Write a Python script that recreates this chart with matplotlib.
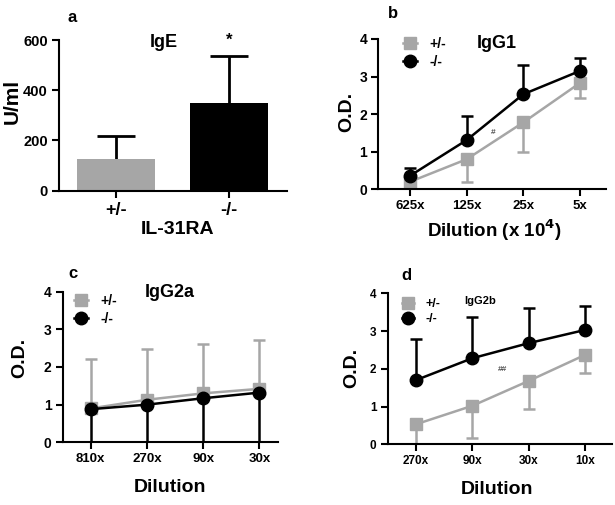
import matplotlib
matplotlib.use("Agg")
import matplotlib.pyplot as plt
from matplotlib.lines import Line2D

plt.rcParams['font.family'] = ['Liberation Sans', 'DejaVu Sans']
plt.rcParams['font.weight'] = 'bold'
plt.rcParams['axes.linewidth'] = 1.5

GRAY = '#a6a6a6'
BLACK = '#000000'

# Panel a: IgE
ige_groups = ['+/-', '-/-']
ige_values = [125, 348]
ige_err = [94, 188]

# Panel b: IgG1
igg1_labels = ['625x', '125x', '25x', '5x']
igg1_het = [0.20, 0.80, 1.78, 2.83]
igg1_het_err = [0.30, 0.60, 0.78, 0.41]
igg1_ko = [0.36, 1.31, 2.53, 3.15]
igg1_ko_err = [0.20, 0.64, 0.79, 0.35]

# Panel c: IgG2a
igg2a_labels = ['810x', '270x', '90x', '30x']
igg2a_het = [0.90, 1.13, 1.30, 1.42]
igg2a_het_err = [1.32, 1.35, 1.31, 1.29]
igg2a_ko = [0.88, 1.00, 1.17, 1.32]
igg2a_ko_err = [1.20, 1.30, 1.40, 1.50]

# Panel d: IgG2b
igg2b_labels = ['270x', '90x', '30x', '10x']
igg2b_het = [0.53, 1.02, 1.68, 2.37]
igg2b_het_err = [0.70, 0.86, 0.75, 0.49]
igg2b_ko = [1.70, 2.28, 2.68, 3.03]
igg2b_ko_err = [1.08, 1.08, 0.94, 0.63]

W, H = 615, 505
fig = plt.figure(figsize=(W / 100, H / 100), dpi=100)


def axes_px(left, right, top, bottom):
    return fig.add_axes([left / W, 1 - bottom / H, (right - left) / W, (bottom - top) / H])


def style(ax, ysize=10, xsize=9.5):
    for s in ['top', 'right']:
        ax.spines[s].set_visible(False)
    ax.tick_params(axis='both', direction='out', width=1.5, length=5, pad=3)
    ax.tick_params(axis='y', labelsize=ysize)
    ax.tick_params(axis='x', labelsize=xsize)
    for lab in ax.get_xticklabels() + ax.get_yticklabels():
        lab.set_fontweight('bold')


def one_sided(container, up):
    # hide the caps at the point end of a one-sided error bar
    caps = container[1]
    if len(caps) == 2:
        caps[0 if up else 1].set_visible(False)


# ---- Panel a ----
axa = axes_px(59, 287, 40, 190.7)
xa = list(range(len(ige_groups)))
axa.bar(xa, ige_values, width=0.69, color=[GRAY, BLACK], zorder=2)
eb = axa.errorbar(xa, ige_values, yerr=[[0, 0], ige_err], fmt='none', ecolor='black',
                  elinewidth=2, capsize=14, capthick=2, zorder=1)
one_sided(eb, True)
axa.set_xlim(-0.504, 1.513)
axa.set_ylim(0, 600)
axa.set_yticks([0, 200, 400, 600])
axa.set_xticks(xa)
axa.set_xticklabels(ige_groups)
style(axa, ysize=10.5, xsize=13)
axa.set_ylabel('U/ml', fontsize=15, fontweight='bold')
axa.yaxis.set_label_coords(-0.205, 0.59)
axa.yaxis.label.set_va('center')
axa.set_xlabel('IL-31RA', fontsize=14, fontweight='bold')
axa.xaxis.set_label_coords(0.52, -0.26)
axa.xaxis.label.set_va('center')
axa.text(0.425, 591, 'IgE', fontsize=13, fontweight='bold', ha='center', va='center')
axa.text(1, 598, '*', fontsize=12, fontweight='bold', ha='center', va='center')


def line_panel(ax, labels, het, het_err, ko, ko_err, het_up, ko_up, xlim, cap=4):
    x = list(range(len(labels)))
    n = len(labels)
    zeros = [0] * n
    het_yerr = [zeros, het_err] if het_up else [het_err, zeros]
    ko_yerr = [zeros, ko_err] if ko_up else [ko_err, zeros]
    e1 = ax.errorbar(x, het, yerr=het_yerr, color=GRAY, marker='s', markersize=9,
                     linewidth=1.8, elinewidth=1.8, capsize=cap, capthick=1.8, zorder=2)
    one_sided(e1, het_up)
    e2 = ax.errorbar(x, ko, yerr=ko_yerr, color=BLACK, marker='o', markersize=9,
                     linewidth=1.8, elinewidth=1.8, capsize=cap, capthick=1.8, zorder=3)
    one_sided(e2, ko_up)
    ax.set_xlim(*xlim)
    ax.set_ylim(0, 4)
    ax.set_yticks([0, 1, 2, 3, 4])
    ax.set_xticks(x)
    ax.set_xticklabels(labels)


def add_legend(ax, anchor, fs=10):
    handles = [Line2D([], [], color=GRAY, marker='s', markersize=9, linewidth=1.8),
               Line2D([], [], color=BLACK, marker='o', markersize=9, linewidth=1.8)]
    leg = ax.legend(handles, ['+/-', '-/-'], loc='upper left', bbox_to_anchor=anchor,
                    frameon=False, handlelength=1.0, handletextpad=0.9,
                    labelspacing=0.25, borderaxespad=0, prop={'size': fs, 'weight': 'bold'})
    return leg


# ---- Panel b ----
axb = axes_px(378.3, 606, 39, 189.3)
line_panel(axb, igg1_labels, igg1_het, igg1_het_err, igg1_ko, igg1_ko_err,
           het_up=False, ko_up=True, xlim=(-0.56, 3.46))
style(axb)
axb.set_ylabel('O.D.', fontsize=14, fontweight='bold')
axb.yaxis.set_label_coords(-0.137, 0.516)
axb.yaxis.label.set_va('center')
axb.set_xlabel('Dilution (x 10$^{\\mathbf{4}}$)', fontsize=13.5, fontweight='bold')
axb.xaxis.set_label_coords(0.512, -0.27)
axb.xaxis.label.set_va('center')
axb.text(1.53, 3.89, 'IgG1', fontsize=13, fontweight='bold', ha='center', va='center')
axb.text(1.46, 1.5, '#', fontsize=6, color='#555555', ha='center', va='center')
add_legend(axb, (0.085, 1.05))

# ---- Panel c ----
axc = axes_px(62.7, 278, 291.7, 442.3)
line_panel(axc, igg2a_labels, igg2a_het, igg2a_het_err, igg2a_ko, igg2a_ko_err,
           het_up=True, ko_up=False, xlim=(-0.5, 3.33))
style(axc)
axc.set_ylabel('O.D.', fontsize=14, fontweight='bold')
axc.yaxis.set_label_coords(-0.198, 0.558)
axc.yaxis.label.set_va('center')
axc.set_xlabel('Dilution', fontsize=14, fontweight='bold')
axc.xaxis.set_label_coords(0.498, -0.303)
axc.xaxis.label.set_va('center')
axc.text(1.40, 3.97, 'IgG2a', fontsize=13, fontweight='bold', ha='center', va='center')
add_legend(axc, (0.025, 1.02))

# ---- Panel d ----
axd = axes_px(387.7, 611.7, 293.3, 444.3)
line_panel(axd, igg2b_labels, igg2b_het, igg2b_het_err, igg2b_ko, igg2b_ko_err,
           het_up=False, ko_up=True, xlim=(-0.5, 3.47))
style(axd, ysize=8.5, xsize=8.5)
axd.set_ylabel('O.D.', fontsize=14, fontweight='bold')
axd.yaxis.set_label_coords(-0.16, 0.503)
axd.yaxis.label.set_va('center')
axd.set_xlabel('Dilution', fontsize=14, fontweight='bold')
axd.xaxis.set_label_coords(0.49, -0.30)
axd.xaxis.label.set_va('center')
axd.text(1.14, 3.80, 'IgG2b', fontsize=8, fontweight='bold', ha='center', va='center')
axd.text(1.54, 1.99, '##', fontsize=6, color='#555555', ha='center', va='center')
add_legend(axd, (0.04, 1.0), fs=9)

# Panel letters
for letter, (px, py) in zip(['a', 'b', 'c', 'd'],
                            [(72, 17), (393, 13), (72.7, 273), (406.7, 275)]):
    fig.text(px / W, 1 - py / H, letter, fontsize=12, fontweight='bold',
             ha='center', va='center')

fig.savefig('out.png', dpi=100)
